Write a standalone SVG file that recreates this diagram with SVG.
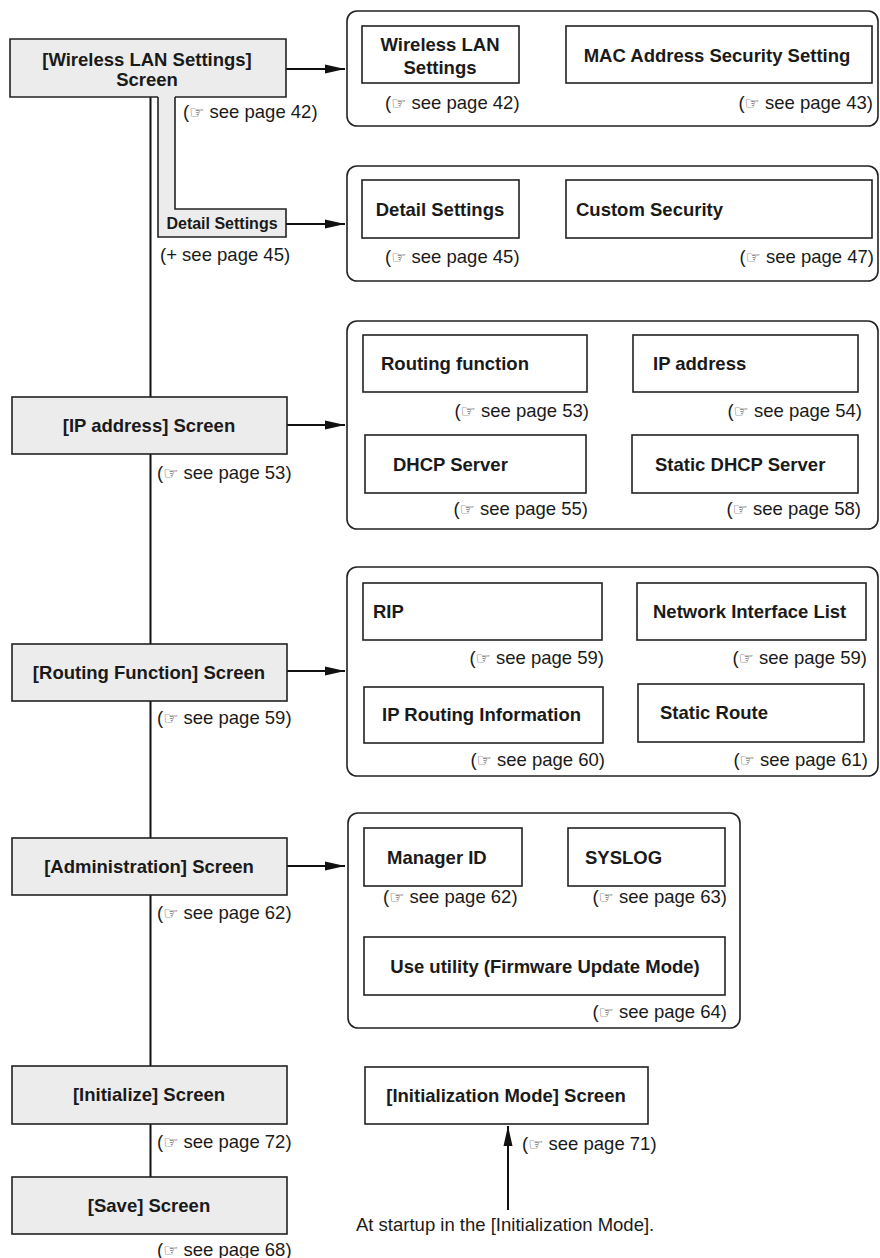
<svg xmlns="http://www.w3.org/2000/svg" width="880" height="1258" viewBox="0 0 880 1258">
<defs>
<style>
.b{font-family:"Liberation Sans",Arial,sans-serif;font-weight:bold;font-size:18.5px;fill:#1a1a1a}
.bs{font-family:"Liberation Sans",Arial,sans-serif;font-weight:bold;font-size:16px;fill:#1a1a1a}
.r{font-family:"Liberation Sans",Arial,sans-serif;font-size:18.5px;fill:#1a1a1a}
.h{font-family:"DejaVu Sans",sans-serif;font-size:17px;fill:#333}
.scr{fill:#ececec;stroke:#222;stroke-width:1.6}
.box{fill:#fff;stroke:#222;stroke-width:1.6}
.grp{fill:#fff;stroke:#222;stroke-width:1.6}
.ln{fill:none;stroke:#111;stroke-width:2}
.c{text-anchor:middle}
.e{text-anchor:end}
</style>
<marker id="ah" viewBox="0 0 20 10" refX="20" refY="5" markerWidth="20" markerHeight="10" markerUnits="userSpaceOnUse" orient="auto">
<path d="M0,0.5 L20,5 L0,9.5 Z" fill="#111"/>
</marker>
</defs>
<rect width="880" height="1258" fill="#fff"/>

<g id="connectors">
<line class="ln" x1="150.5" y1="97" x2="150.5" y2="1177"/>
<line class="ln" x1="286" y1="69" x2="345" y2="69" marker-end="url(#ah)"/>
<line class="ln" x1="286" y1="224" x2="345" y2="224" marker-end="url(#ah)"/>
<line class="ln" x1="287" y1="425" x2="345" y2="425" marker-end="url(#ah)"/>
<line class="ln" x1="287" y1="671" x2="345" y2="671" marker-end="url(#ah)"/>
<line class="ln" x1="287" y1="866" x2="345" y2="866" marker-end="url(#ah)"/>
<line class="ln" x1="508" y1="1210" x2="508" y2="1126" marker-end="url(#ah)"/>
</g>

<g id="wireless-lan-screen">
<path class="scr" d="M158,97 H10 V39 H286 V97 H175"/>
<text class="b c" x="147" y="66">[Wireless LAN Settings]</text>
<text class="b c" x="147" y="86">Screen</text>
<text class="r" x="183" y="118">(<tspan class="h">☞</tspan> see page 42)</text>
</g>

<g id="detail-settings-tab">
<path class="scr" d="M158,97 V237 H286 V209 H175 V97"/>
<text class="bs c" x="222" y="229">Detail Settings</text>
<text class="r" x="160" y="261">(+ see page 45)</text>
</g>

<g id="wireless-group">
<rect class="grp" x="347" y="11" width="531" height="115" rx="10"/>
<rect class="box" x="362" y="26" width="157" height="57"/>
<text class="b c" x="440" y="51">Wireless LAN</text>
<text class="b c" x="440" y="74">Settings</text>
<text class="r" x="385" y="109">(<tspan class="h">☞</tspan> see page 42)</text>
<rect class="box" x="566" y="26" width="306" height="57"/>
<text class="b c" x="717" y="62">MAC Address Security Setting</text>
<text class="r e" x="873" y="109">(<tspan class="h">☞</tspan> see page 43)</text>
</g>

<g id="detail-group">
<rect class="grp" x="347" y="166" width="531" height="115" rx="10"/>
<rect class="box" x="362" y="180" width="157" height="58"/>
<text class="b c" x="440" y="216">Detail Settings</text>
<text class="r" x="385" y="263">(<tspan class="h">☞</tspan> see page 45)</text>
<rect class="box" x="566" y="180" width="306" height="58"/>
<text class="b" x="576" y="216">Custom Security</text>
<text class="r e" x="874" y="263">(<tspan class="h">☞</tspan> see page 47)</text>
</g>

<g id="ip-address-screen">
<rect class="scr" x="12" y="397" width="275" height="57"/>
<text class="b c" x="149" y="432">[IP address] Screen</text>
<text class="r" x="157" y="479">(<tspan class="h">☞</tspan> see page 53)</text>
</g>

<g id="ip-group">
<rect class="grp" x="347" y="321" width="531" height="208" rx="10"/>
<rect class="box" x="363" y="335" width="224" height="57"/>
<text class="b" x="381" y="370">Routing function</text>
<text class="r e" x="589" y="417">(<tspan class="h">☞</tspan> see page 53)</text>
<rect class="box" x="633" y="335" width="225" height="57"/>
<text class="b" x="653" y="370">IP address</text>
<text class="r e" x="862" y="417">(<tspan class="h">☞</tspan> see page 54)</text>
<rect class="box" x="365" y="435" width="221" height="58"/>
<text class="b" x="393" y="471">DHCP Server</text>
<text class="r e" x="588" y="515">(<tspan class="h">☞</tspan> see page 55)</text>
<rect class="box" x="632" y="435" width="226" height="58"/>
<text class="b" x="655" y="471">Static DHCP Server</text>
<text class="r e" x="861" y="515">(<tspan class="h">☞</tspan> see page 58)</text>
</g>

<g id="routing-function-screen">
<rect class="scr" x="12" y="644" width="275" height="57"/>
<text class="b c" x="149" y="679">[Routing Function] Screen</text>
<text class="r" x="157" y="724">(<tspan class="h">☞</tspan> see page 59)</text>
</g>

<g id="routing-group">
<rect class="grp" x="347" y="567" width="531" height="209" rx="10"/>
<rect class="box" x="363" y="583" width="239" height="57"/>
<text class="b" x="373" y="618">RIP</text>
<text class="r e" x="604" y="664">(<tspan class="h">☞</tspan> see page 59)</text>
<rect class="box" x="637" y="583" width="229" height="57"/>
<text class="b" x="653" y="618">Network Interface List</text>
<text class="r e" x="867" y="664">(<tspan class="h">☞</tspan> see page 59)</text>
<rect class="box" x="364" y="687" width="239" height="56"/>
<text class="b" x="382" y="721">IP Routing Information</text>
<text class="r e" x="605" y="766">(<tspan class="h">☞</tspan> see page 60)</text>
<rect class="box" x="638" y="684" width="226" height="58"/>
<text class="b" x="660" y="719">Static Route</text>
<text class="r e" x="868" y="766">(<tspan class="h">☞</tspan> see page 61)</text>
</g>

<g id="administration-screen">
<rect class="scr" x="12" y="838" width="275" height="57"/>
<text class="b c" x="149" y="873">[Administration] Screen</text>
<text class="r" x="157" y="919">(<tspan class="h">☞</tspan> see page 62)</text>
</g>

<g id="admin-group">
<rect class="grp" x="348" y="813" width="392" height="215" rx="10"/>
<rect class="box" x="364" y="828" width="158" height="58"/>
<text class="b" x="387" y="864">Manager ID</text>
<text class="r" x="383" y="903">(<tspan class="h">☞</tspan> see page 62)</text>
<rect class="box" x="568" y="828" width="157" height="58"/>
<text class="b" x="585" y="864">SYSLOG</text>
<text class="r e" x="727" y="903">(<tspan class="h">☞</tspan> see page 63)</text>
<rect class="box" x="364" y="937" width="361" height="58"/>
<text class="b c" x="545" y="973">Use utility (Firmware Update Mode)</text>
<text class="r e" x="727" y="1018">(<tspan class="h">☞</tspan> see page 64)</text>
</g>

<g id="initialize-screen">
<rect class="scr" x="12" y="1066" width="275" height="58"/>
<text class="b c" x="149" y="1101">[Initialize] Screen</text>
<text class="r" x="157" y="1148">(<tspan class="h">☞</tspan> see page 72)</text>
</g>

<g id="save-screen">
<rect class="scr" x="12" y="1177" width="275" height="57"/>
<text class="b c" x="149" y="1212">[Save] Screen</text>
<text class="r" x="157" y="1256">(<tspan class="h">☞</tspan> see page 68)</text>
</g>

<g id="initialization-mode-screen">
<rect class="box" x="365" y="1067" width="283" height="57"/>
<text class="b c" x="506" y="1102">[Initialization Mode] Screen</text>
<text class="r" x="522" y="1150">(<tspan class="h">☞</tspan> see page 71)</text>
</g>

<g id="startup-note">
<text class="r" x="356" y="1231">At startup in the [Initialization Mode].</text>
</g>
</svg>
